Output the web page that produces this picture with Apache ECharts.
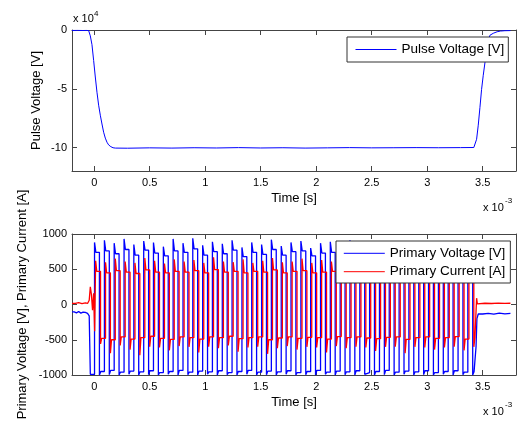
<!DOCTYPE html>
<html><head><meta charset="utf-8">
<script src="https://cdn.jsdelivr.net/npm/echarts@6/dist/echarts.min.js"></script>
<style>html,body{margin:0;padding:0;background:#fff}#c{width:520px;height:425px}</style>
</head><body><div id="c"></div>
<script>
// ---- tick labels ----
const timeTicks = [0, 0.5, 1, 1.5, 2, 2.5, 3, 3.5];           // x 10^-3 s
const pulseTicks = [-100000, -50000, 0];                      // shown as x 10^4
const primaryTicks = [-1000, -500, 0, 500, 1000];

// ---- top plot: pulse voltage (time in units of 1e-3 s, value in V) ----
const pulseTime = [-0.20,-0.15,-0.10,-0.07,-0.05,-0.035,-0.02,-0.005,0.01,0.025,0.04,0.055,0.07,0.085,0.10,0.115,0.13,0.15,0.17,0.19,0.3,0.5,0.7,0.9,1.1,1.3,1.5,1.7,1.9,2.1,2.3,2.5,2.7,2.9,3.1,3.3,3.42,3.435,3.445,3.46,3.475,3.49,3.505,3.52,3.535,3.55,3.565,3.58,3.595,3.61,3.63,3.66,3.70,3.75];
const pulseVolt = [-400,-300,-450,-350,-500,-5000,-12500,-26000,-40000,-53000,-64000,-72500,-80000,-87000,-92000,-95500,-97800,-99300,-100200,-100500,-100600,-100300,-100500,-100200,-100400,-100100,-100400,-100200,-100500,-100300,-100100,-100300,-100200,-100100,-100200,-100100,-100000,-99000,-93000,-81000,-66000,-50500,-38500,-28000,-17000,-8500,-4500,-3000,-2800,-2300,-1500,-900,-600,-500];

// ---- bottom plot: primary voltage ----
const voltPreTime = [-0.20,-0.18,-0.16,-0.14,-0.12,-0.10,-0.08,-0.06,-0.045,-0.035];
const voltPreValue = [-105,-118,-100,-122,-108,-112,-125,-110,-160,-990];
// switching edges (start of each half cycle) and the time the ringing settles
const voltEdge = [0.003,0.047,0.092,0.136,0.180,0.224,0.269,0.313,0.357,0.401,0.446,0.490,0.534,0.578,0.623,0.667,0.711,0.755,0.800,0.844,0.888,0.932,0.977,1.021,1.065,1.109,1.154,1.198,1.242,1.286,1.331,1.375,1.419,1.463,1.508,1.552,1.596,1.640,1.685,1.729,1.773,1.817,1.862,1.906,1.950,1.994,2.039,2.083,2.127,2.171,2.216,2.260,2.304,2.348,2.393,2.437,2.481,2.525,2.570,2.614,2.658,2.702,2.747,2.791,2.835,2.879,2.924,2.968,3.012,3.056,3.101,3.145,3.189,3.233,3.278,3.322,3.366,3.410];
const voltSettleTime = [0.015,0.059,0.104,0.148,0.192,0.236,0.281,0.325,0.369,0.413,0.458,0.502,0.546,0.590,0.635,0.679,0.723,0.767,0.812,0.856,0.900,0.944,0.989,1.033,1.077,1.121,1.166,1.210,1.254,1.298,1.343,1.387,1.431,1.475,1.520,1.564,1.608,1.652,1.697,1.741,1.785,1.829,1.874,1.918,1.962,2.006,2.051,2.095,2.139,2.183,2.228,2.272,2.316,2.360,2.405,2.449,2.493,2.537,2.582,2.626,2.670,2.714,2.759,2.803,2.847,2.891,2.936,2.980,3.024,3.068,3.113,3.157,3.201,3.245,3.290,3.334,3.378,3.422];
const voltPeak = [880,-1000,910,-995,870,-1000,930,-990,850,-1000,
  900,-995,880,-1000,820,-990,930,-1000,870,-995,
  940,-1000,840,-990,890,-1000,860,-995,910,-1000,
  810,-990,880,-1000,850,-995,920,-1000,830,-990,
  880,-1000,900,-995,800,-1000,870,-990,890,-1000,
  840,-995,910,-1000,820,-990,880,-1000,860,-995,
  900,-1000,800,-990,850,-1000,880,-995,820,-1000,
  870,-990,790,-1000,840,-995,830,-1000];
const voltSettle = [740,-950,760,-935,720,-960,780,-945,700,-955,
  770,-940,730,-965,690,-950,760,-935,740,-960,
  790,-945,700,-955,750,-940,720,-965,770,-950,
  680,-935,740,-960,710,-945,780,-955,700,-940,
  750,-965,760,-950,690,-935,730,-960,740,-945,
  700,-955,770,-940,710,-965,750,-950,720,-935,
  760,-960,680,-945,730,-955,740,-940,700,-965,
  730,-950,690,-940,720,-960,710,-955];
const voltPostTime = [3.440,3.448,3.46,3.50,3.55,3.60,3.65,3.70,3.75];
const voltPostValue = [-600,-200,-135,-125,-138,-122,-132,-126,-130];

// ---- bottom plot: primary current ----
const currPreTime = [-0.20,-0.17,-0.14,-0.11,-0.08,-0.06,-0.045,-0.035,-0.025,-0.015,-0.005,0.004];
const currPreValue = [15,25,12,22,15,28,60,250,140,-80,160,-380];
const currEdge = [0.013,0.057,0.102,0.146,0.190,0.234,0.279,0.323,0.367,0.411,0.456,0.500,0.544,0.588,0.633,0.677,0.721,0.765,0.810,0.854,0.898,0.942,0.987,1.031,1.075,1.119,1.164,1.208,1.252,1.296,1.341,1.385,1.429,1.473,1.518,1.562,1.606,1.650,1.695,1.739,1.783,1.827,1.872,1.916,1.960,2.004,2.049,2.093,2.137,2.181,2.226,2.270,2.314,2.358,2.403,2.447,2.491,2.535,2.580,2.624,2.668,2.712,2.757,2.801,2.845,2.889,2.934,2.978,3.022,3.066,3.111,3.155,3.199,3.243,3.288,3.332,3.376,3.420];
const currSettleTime = [0.023,0.067,0.112,0.156,0.200,0.244,0.289,0.333,0.377,0.421,0.466,0.510,0.554,0.598,0.643,0.687,0.731,0.775,0.820,0.864,0.908,0.952,0.997,1.041,1.085,1.129,1.174,1.218,1.262,1.306,1.351,1.395,1.439,1.483,1.528,1.572,1.616,1.660,1.705,1.749,1.793,1.837,1.882,1.926,1.970,2.014,2.059,2.103,2.147,2.191,2.236,2.280,2.324,2.368,2.413,2.457,2.501,2.545,2.590,2.634,2.678,2.722,2.767,2.811,2.855,2.899,2.944,2.988,3.032,3.076,3.121,3.165,3.209,3.253,3.298,3.342,3.386,3.430];
const currPeak = [620,-560,600,-690,650,-580,610,-640,590,-720,
  660,-600,620,-610,580,-650,640,-590,610,-600,
  630,-680,590,-600,670,-620,610,-580,600,-670,
  640,-610,590,-600,620,-700,660,-620,600,-590,
  610,-640,650,-600,590,-610,630,-680,610,-590,
  640,-620,580,-600,670,-610,610,-660,590,-600,
  620,-600,600,-690,650,-600,610,-610,590,-640,
  640,-610,600,-600,610,-650,620,-600];
const currSettle = [470,-480,450,-500,480,-460,460,-490,440,-470,
  490,-450,460,-480,450,-495,470,-460,460,-470,
  480,-490,450,-460,495,-470,460,-450,470,-485,
  450,-470,470,-460,460,-500,490,-475,450,-460,
  470,-480,480,-465,450,-470,460,-490,470,-455,
  480,-470,450,-460,495,-475,460,-485,450,-465,
  470,-460,460,-495,480,-470,450,-460,470,-480,
  480,-470,460,-455,470,-490,460,-470];
const currPostTime = [3.445,3.452,3.47,3.52,3.58,3.64,3.70,3.75];
const currPostValue = [90,10,18,14,20,15,18,16];

// ---- build the point lists the line series need ----
const zip = (ts, vs) => ts.map((t, i) => [t, vs[i]]);
function halfCycles(edge, peak, settleT, settle) {
  const out = [];
  edge.forEach((t, i) => { out.push([t, peak[i]]); out.push([settleT[i], settle[i]]); });
  return out;
}
const pulseData = zip(pulseTime, pulseVolt);
const voltData = zip(voltPreTime, voltPreValue).concat(halfCycles(voltEdge, voltPeak, voltSettleTime, voltSettle), zip(voltPostTime, voltPostValue));
const currData = zip(currPreTime, currPreValue).concat(halfCycles(currEdge, currPeak, currSettleTime, currSettle), zip(currPostTime, currPostValue));

const FONT = 'Liberation Sans';
const AX = '#444';
const BLUE = '#0000ff', RED = '#ff0000';
function xAx(grid, pos, labels, name) {
  return {
    type: 'value', gridIndex: grid, position: pos, min: -0.2, max: 3.8,
    name: name || '', nameLocation: 'middle', nameGap: 21, nameMoveOverlap: false,
    nameTextStyle: { fontFamily: FONT, fontSize: 13, color: '#000' },
    axisLine: { show: true, onZero: false, lineStyle: { color: AX, width: 1 } },
    axisTick: { show: true, inside: true, length: 5, customValues: timeTicks, lineStyle: { color: AX } },
    axisLabel: { show: labels, customValues: timeTicks, margin: 6, fontFamily: FONT, fontSize: 11, color: '#000' },
    splitLine: { show: false }
  };
}
function yAx(grid, pos, min, max, ticks, labels, name, gap, fmt) {
  return {
    type: 'value', gridIndex: grid, position: pos, min: min, max: max,
    name: name || '', nameLocation: 'middle', nameGap: gap || 30, nameRotate: 90, nameMoveOverlap: false,
    nameTextStyle: { fontFamily: FONT, fontSize: 13, color: '#000' },
    axisLine: { show: true, onZero: false, lineStyle: { color: AX, width: 1 } },
    axisTick: { show: true, inside: true, length: 5, customValues: ticks, lineStyle: { color: AX } },
    axisLabel: { show: labels, customValues: ticks, margin: 5, fontFamily: FONT, fontSize: 11, color: '#000', formatter: fmt },
    splitLine: { show: false }
  };
}
const legItem = (name, c) => ({ name: name, itemStyle: { color: c, opacity: 0 }, lineStyle: { color: c, width: 1 } });
const legendBase = {
  orient: 'vertical', itemWidth: 41, itemHeight: 14, itemGap: 4.4,
  backgroundColor: '#fff', borderColor: '#333', borderWidth: 1, borderRadius: 0,
  textStyle: { fontFamily: FONT, fontSize: 13.5, color: '#000', lineHeight: 14 }
};
const chart = echarts.init(document.getElementById('c'), null, { renderer: 'canvas' });
chart.setOption({
  animation: false,
  backgroundColor: '#fff',
  grid: [
    { left: 72, top: 30, width: 444, height: 141, containLabel: false },
    { left: 72, top: 234, width: 444, height: 141, containLabel: false }
  ],
  xAxis: [
    xAx(0, 'bottom', true, 'Time [s]'), xAx(0, 'top', false),
    xAx(1, 'bottom', true, 'Time [s]'), xAx(1, 'top', false)
  ],
  yAxis: [
    yAx(0, 'left', -120000, 0, pulseTicks, true, 'Pulse Voltage [V]', 29, v => String(Math.round(v / 10000))),
    yAx(0, 'right', -120000, 0, pulseTicks, false),
    yAx(1, 'left', -1000, 1000, primaryTicks, true, 'Primary Voltage [V], Primary Current [A]', 43, v => String(v)),
    yAx(1, 'right', -1000, 1000, primaryTicks, false)
  ],
  legend: [
    Object.assign({}, legendBase, { data: [legItem('Pulse Voltage [V]', BLUE)], left: 347, top: 37, padding: [5.5, 4, 5.5, 8],
      itemStyle: { color: BLUE, opacity: 0 }, lineStyle: { color: BLUE, width: 1 } }),
    Object.assign({}, legendBase, { data: [legItem('Primary Voltage [V]', BLUE), legItem('Primary Current [A]', RED)], left: 336, top: 241, padding: [5.3, 5, 4.3, 7.3],
      itemStyle: { opacity: 0 }, lineStyle: { width: 1 } })
  ],
  graphic: [
    { type: 'text', x: 73, y: 19, style: { text: 'x 10', fontFamily: FONT, fontSize: 11, fill: '#000', align: 'left', verticalAlign: 'middle' } },
    { type: 'text', x: 94, y: 14, style: { text: '4', fontFamily: FONT, fontSize: 8, fill: '#000', align: 'left', verticalAlign: 'middle' } },
    { type: 'text', x: 483, y: 207.5, style: { text: 'x 10', fontFamily: FONT, fontSize: 11, fill: '#000', align: 'left', verticalAlign: 'middle' } },
    { type: 'text', x: 505, y: 201, style: { text: '-3', fontFamily: FONT, fontSize: 8, fill: '#000', align: 'left', verticalAlign: 'middle' } },
    { type: 'text', x: 483, y: 411.5, style: { text: 'x 10', fontFamily: FONT, fontSize: 11, fill: '#000', align: 'left', verticalAlign: 'middle' } },
    { type: 'text', x: 505, y: 405, style: { text: '-3', fontFamily: FONT, fontSize: 8, fill: '#000', align: 'left', verticalAlign: 'middle' } }
  ],
  series: [
    { name: 'Pulse Voltage [V]', type: 'line', xAxisIndex: 0, yAxisIndex: 0, data: pulseData,
      symbol: 'none', color: BLUE, lineStyle: { color: BLUE, width: 1 }, itemStyle: { color: BLUE } },
    { name: 'Primary Voltage [V]', type: 'line', xAxisIndex: 2, yAxisIndex: 2, data: voltData, step: 'end',
      symbol: 'none', color: BLUE, lineStyle: { color: BLUE, width: 1.3 }, itemStyle: { color: BLUE } },
    { name: 'Primary Current [A]', type: 'line', xAxisIndex: 2, yAxisIndex: 2, data: currData, step: 'end',
      symbol: 'none', color: RED, lineStyle: { color: RED, width: 1.3 }, itemStyle: { color: RED } }
  ]
});
</script>
</body></html>
